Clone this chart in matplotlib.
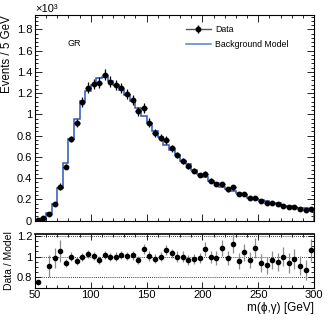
import numpy as np
import matplotlib
matplotlib.use('Agg')
import matplotlib.pyplot as plt
from matplotlib.lines import Line2D
from matplotlib.ticker import MultipleLocator, FuncFormatter

plt.rcParams['font.family'] = ['Liberation Sans', 'DejaVu Sans']

# bins of 5 GeV between 50 and 300 GeV
edges = np.arange(50, 305, 5)
centers = edges[:-1] + 2.5

# events per bin, in units of 10^3
data = [0.005, 0.028, 0.066, 0.157, 0.320, 0.508, 0.769, 0.916, 1.117, 1.251,
        1.286, 1.298, 1.374, 1.308, 1.277, 1.248, 1.189, 1.135, 1.030, 1.057,
        0.922, 0.822, 0.781, 0.759, 0.681, 0.618, 0.565, 0.515, 0.468, 0.430,
        0.440, 0.376, 0.345, 0.342, 0.295, 0.314, 0.248, 0.251, 0.210, 0.217,
        0.185, 0.169, 0.163, 0.154, 0.141, 0.126, 0.126, 0.110, 0.100, 0.110]

model = [0.007, 0.022, 0.073, 0.159, 0.304, 0.542, 0.769, 0.955, 1.124, 1.219,
         1.278, 1.345, 1.356, 1.312, 1.277, 1.232, 1.185, 1.124, 1.064, 0.988,
         0.917, 0.840, 0.783, 0.713, 0.661, 0.618, 0.565, 0.532, 0.480, 0.437,
         0.410, 0.378, 0.350, 0.319, 0.299, 0.279, 0.259, 0.241, 0.218, 0.201,
         0.197, 0.185, 0.168, 0.162, 0.141, 0.134, 0.129, 0.121, 0.115, 0.103]

# data / model as shown in the lower pad (bin 2 lies off scale)
ratio = [0.750, np.nan, 0.910, 0.985, 1.054, 0.937, 1.000, 0.959, 0.994, 1.026,
         1.006, 0.965, 1.013, 0.997, 1.000, 1.013, 1.003, 1.010, 0.968, 1.070,
         1.006, 0.978, 0.997, 1.064, 1.030, 1.000, 1.000, 0.968, 0.975, 0.985,
         1.073, 0.994, 0.985, 1.080, 0.985, 1.124, 0.959, 1.040, 0.965, 1.080,
         0.937, 0.915, 0.968, 0.950, 1.000, 0.937, 0.975, 0.910, 0.873, 1.064]

# relative uncertainty of each data point
rel_err = [0.03, 0.30, 0.12, 0.10, 0.10, 0.045, 0.04, 0.04, 0.04, 0.04,
           0.04, 0.04, 0.04, 0.04, 0.04, 0.04, 0.04, 0.04, 0.04, 0.045,
           0.045, 0.045, 0.045, 0.045, 0.045, 0.05, 0.05, 0.05, 0.05, 0.05,
           0.06, 0.06, 0.065, 0.07, 0.07, 0.08, 0.08, 0.08, 0.08, 0.09,
           0.09, 0.09, 0.09, 0.09, 0.09, 0.10, 0.10, 0.10, 0.11, 0.10]

data = np.array(data)
model = np.array(model)
ratio = np.array(ratio)
rel_err = np.array(rel_err)

W, H = 332, 322
fig = plt.figure(figsize=(W / 100, H / 100), dpi=100)
ax = fig.add_axes([35 / W, 1 - 220.7 / H, 279 / W, 205.7 / H])
rax = fig.add_axes([35 / W, 1 - 287.5 / H, 279 / W, 53.5 / H])

blue = '#2f56b8'

# --- upper pad
ax.stairs(model, edges, color=blue, lw=1.1, zorder=2)
ax.errorbar(centers, data, yerr=data * rel_err, xerr=2.5, fmt='o', color='black',
            ms=3.2, elinewidth=0.9, capsize=0, zorder=3)

ax.set_xlim(50, 300)
ax.set_ylim(0, 1.935)
ax.set_ylabel('Events / 5 GeV', fontsize=8.3, loc='top', labelpad=3)
ax.text(0, 1.004, '×10³', transform=ax.transAxes, ha='left', va='bottom', fontsize=8)
ax.text(0.115, 0.86, 'GR', transform=ax.transAxes, ha='left', va='center', fontsize=6.5)

# legend entries drawn like ROOT: line through marker with a short vertical bar
data_handle = (Line2D([], [], color='#555555', lw=1.0),
               Line2D([], [], color='black', marker='|', ls='', ms=6, mew=1.0),
               Line2D([], [], color='black', marker='o', ls='', ms=3.2))
model_handle = Line2D([], [], color='#5b7fd0', lw=1.1)
ax.legend([data_handle, model_handle], ['Data', 'Background Model'],
          loc='upper left', bbox_to_anchor=(0.54, 0.953), frameon=False,
          fontsize=6.3, handlelength=2.9, handletextpad=0.5,
          labelspacing=0.75, borderpad=0, borderaxespad=0)

# --- lower pad
for yv in (0.8, 1.0, 1.2):
    rax.axhline(yv, color='black', ls=(0, (1, 1.5)), lw=0.6, zorder=1)
rax.errorbar(centers, ratio, yerr=ratio * rel_err, fmt='o', color='black', ecolor='#8c8c8c',
             ms=3.0, elinewidth=0.9, capsize=0, zorder=3)
rax.set_xlim(50, 300)
rax.set_ylim(0.7, 1.218)
rax.set_ylabel('Data / Model', fontsize=7.5, labelpad=2)
rax.set_xlabel('m(ϕ,γ) [GeV]', fontsize=8.5, loc='right', labelpad=1)

fmt = FuncFormatter(lambda v, p: f'{v:g}')
for a in (ax, rax):
    a.xaxis.set_major_locator(MultipleLocator(50))
    a.xaxis.set_minor_locator(MultipleLocator(10))
    a.yaxis.set_major_formatter(fmt)
    a.tick_params(which='both', direction='in', top=True, right=True,
                  labelsize=8, width=0.6, pad=2)
    for s in a.spines.values():
        s.set_linewidth(0.8)

ax.yaxis.set_major_locator(MultipleLocator(0.2))
ax.yaxis.set_minor_locator(MultipleLocator(0.04))
ax.tick_params(which='major', length=5)
ax.tick_params(which='minor', length=2.5)
ax.tick_params(axis='x', labelbottom=False)

rax.yaxis.set_major_locator(MultipleLocator(0.2))
rax.yaxis.set_minor_locator(MultipleLocator(0.05))
rax.tick_params(which='major', length=4)
rax.tick_params(which='minor', length=2)
rax.spines['top'].set_linewidth(1.2)

fig.savefig('out.png', dpi=100)
